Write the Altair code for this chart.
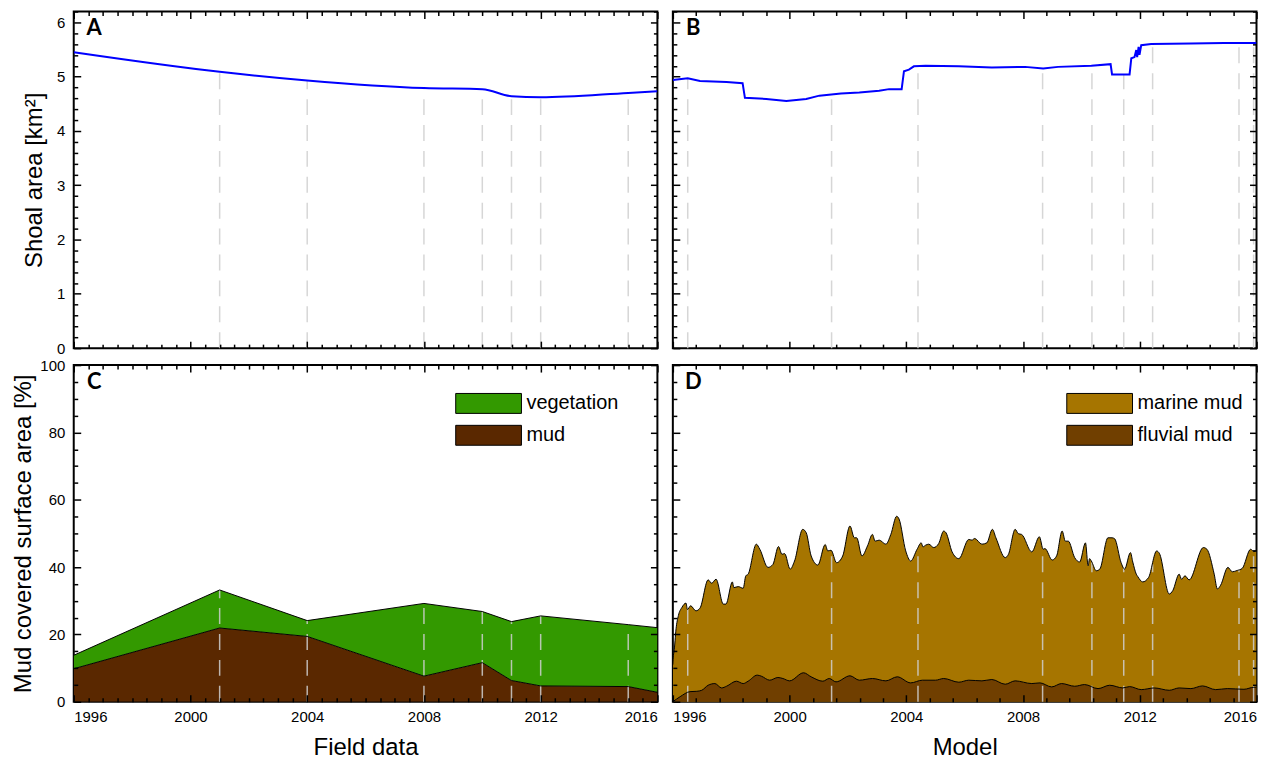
import altair as alt
import numpy as np
import pandas as pd

# ---------------- data ----------------
field_years = [1996.0, 2001.0, 2004.0, 2008.0, 2010.0, 2011.0, 2012.0, 2015.0, 2016.0]
field_shoal_area = [5.45, 5.09, 4.93, 4.79, 4.77, 4.64, 4.62, 4.70, 4.73]
field_mud = [9.8, 21.9, 19.4, 7.6, 11.6, 6.3, 4.7, 4.5, 2.8]
field_vegetation = [4.0, 11.3, 4.7, 21.6, 15.2, 17.5, 20.8, 18.4, 19.2]
field_survey_years = [2001.0, 2004.0, 2008.0, 2010.0, 2011.0, 2012.0, 2015.0]

model_area_years = [1996.0, 1996.51, 1996.93, 1997.84, 1998.39, 1998.47, 1999.20, 1999.89,
                    2000.57, 2001.02, 2001.76, 2002.39, 2003.07, 2003.41, 2003.84, 2003.92,
                    2004.09, 2004.26, 2004.66, 2005.80, 2006.93, 2008.07, 2008.69, 2009.20,
                    2010.34, 2011.00, 2011.05, 2011.65, 2011.71, 2011.82, 2011.88, 2011.91,
                    2011.96, 2011.99, 2012.05, 2012.39, 2013.75, 2014.89, 2016.0]
model_shoal_area = [4.94, 4.97, 4.92, 4.90, 4.88, 4.61, 4.59, 4.55,
                    4.59, 4.65, 4.69, 4.71, 4.74, 4.77, 4.77, 5.10,
                    5.13, 5.19, 5.20, 5.19, 5.17, 5.18, 5.15, 5.18,
                    5.20, 5.23, 5.04, 5.04, 5.34, 5.36, 5.49, 5.36,
                    5.55, 5.40, 5.58, 5.60, 5.61, 5.62, 5.62]

model_mud_years = [1996.00, 1996.02, 1996.04, 1996.11, 1996.19, 1996.31, 1996.45, 1996.50,
                   1996.61, 1996.79, 1996.93, 1997.21, 1997.33, 1997.48, 1997.73, 1997.82,
                   1998.04, 1998.09, 1998.24, 1998.41, 1998.50, 1998.58, 1998.86, 1998.98,
                   1999.26, 1999.43, 1999.62, 1999.74, 1999.83, 2000.02, 2000.17, 2000.45,
                   2000.57, 2000.74, 2000.97, 2001.22, 2001.31, 2001.42, 2001.61, 2001.82,
                   2002.07, 2002.22, 2002.30, 2002.48, 2002.67, 2002.84, 2002.93, 2003.07,
                   2003.30, 2003.47, 2003.67, 2003.75, 2003.98, 2004.15, 2004.37, 2004.51,
                   2004.57, 2004.66, 2004.77, 2004.94, 2005.11, 2005.28, 2005.36, 2005.57,
                   2005.80, 2006.14, 2006.25, 2006.34, 2006.59, 2006.76, 2006.95, 2007.07,
                   2007.39, 2007.50, 2007.73, 2007.84, 2007.95, 2008.30, 2008.56, 2008.69,
                   2008.75, 2009.00, 2009.15, 2009.34, 2009.45, 2009.55, 2009.77, 2009.94,
                   2010.14, 2010.23, 2010.28, 2010.34, 2010.51, 2010.63, 2010.91, 2011.05,
                   2011.14, 2011.36, 2011.48, 2011.68, 2011.76, 2011.88, 2011.93, 2012.10,
                   2012.30, 2012.58, 2012.67, 2013.01, 2013.13, 2013.35, 2013.43, 2013.55,
                   2013.69, 2014.18, 2014.30, 2014.55, 2014.66, 2014.77, 2015.02, 2015.17,
                   2015.34, 2015.51, 2015.80, 2015.91, 2016.00]
model_total_mud = [11.0, 13.8, 14.8, 21.7, 25.6, 28.0, 29.3, 27.4,
                   28.5, 27.0, 27.8, 36.2, 35.2, 36.4, 29.0, 29.0,
                   35.6, 33.9, 34.2, 33.7, 37.4, 37.9, 46.8, 45.3,
                   39.9, 40.8, 46.1, 43.8, 44.0, 39.4, 41.8, 51.2,
                   50.2, 43.3, 40.6, 46.7, 44.8, 45.0, 41.3, 43.3,
                   52.2, 48.7, 48.7, 43.3, 46.3, 49.7, 47.7, 48.0,
                   46.8, 49.7, 55.1, 54.3, 44.8, 41.8, 45.3, 47.2,
                   46.0, 46.5, 46.8, 45.8, 47.0, 50.7, 50.2, 44.5,
                   42.5, 48.2, 48.0, 48.5, 46.8, 47.2, 51.2, 48.7,
                   42.8, 43.8, 51.2, 49.9, 49.7, 44.5, 49.0, 45.3,
                   45.5, 42.1, 43.3, 50.7, 47.7, 47.7, 42.8, 41.5,
                   47.2, 40.4, 42.5, 41.8, 38.9, 39.4, 48.7, 48.7,
                   48.4, 41.3, 39.4, 44.3, 41.5, 37.9, 37.2, 35.6,
                   36.9, 44.8, 44.1, 32.0, 33.0, 37.9, 36.4, 37.4,
                   36.2, 45.8, 45.3, 37.9, 33.5, 34.6, 39.9, 38.6,
                   39.0, 39.6, 45.3, 44.6, 44.8]

model_fluvial_years = [1996.00, 1996.25, 1996.59, 1996.82, 1996.99, 1997.21, 1997.44, 1997.67,
                       1997.84, 1998.18, 1998.41, 1998.58, 1998.89, 1999.03, 1999.32, 1999.60,
                       1999.77, 2000.00, 2000.48, 2000.74, 2001.14, 2001.36, 2001.59, 2002.07,
                       2002.39, 2002.84, 2003.30, 2003.69, 2004.15, 2004.55, 2005.00, 2005.28,
                       2005.80, 2006.14, 2006.59, 2006.93, 2007.39, 2007.73, 2008.30, 2008.58,
                       2008.98, 2009.32, 2009.77, 2010.11, 2010.57, 2010.97, 2011.42, 2011.65,
                       2012.05, 2012.50, 2013.01, 2013.35, 2013.75, 2014.15, 2014.60, 2015.00,
                       2015.57, 2015.91, 2016.00]
model_fluvial_mud = [0.0, 1.5, 3.0, 3.1, 3.4, 4.9, 5.4, 4.1,
                     4.6, 6.1, 5.4, 6.1, 7.9, 7.6, 6.4, 7.2,
                     6.9, 6.2, 8.6, 7.4, 6.1, 6.9, 5.9, 7.7,
                     6.4, 6.9, 6.2, 7.4, 5.6, 6.4, 6.4, 6.9,
                     5.8, 6.4, 6.2, 6.6, 5.2, 6.2, 5.4, 5.6,
                     4.4, 5.4, 4.6, 5.1, 3.9, 4.9, 4.1, 4.5,
                     3.6, 4.1, 3.4, 4.1, 3.9, 4.7, 3.6, 3.9,
                     3.7, 4.3, 4.3]
model_survey_years = [1996.51, 2001.44, 2004.40, 2008.67, 2010.36, 2011.45, 2012.44, 2015.40, 2015.90]

x_major = [1996, 2000, 2004, 2008, 2012, 2016]
field_x_minor = [1996 + 0.5 * i for i in range(41) if i % 8 != 0]
model_x_minor = [round(1996 + 0.8 * i, 2) for i in range(26) if i % 5 != 0]
area_y_major = [0, 1, 2, 3, 4, 5, 6]
area_y_minor = [round(0.2 * i, 1) for i in range(32) if i % 5 != 0]
pct_y_major = [0, 20, 40, 60, 80, 100]
pct_y_minor = [5 * i for i in range(21) if i % 4 != 0]

field_legend = ["vegetation", "mud"]
field_colors = ["#339900", "#5a2800"]
model_legend = ["marine mud", "fluvial mud"]
model_colors = ["#a67500", "#703f00"]

# ---------------- styling ----------------
W, H = 586, 338
FONT = "Liberation Sans"
AREA_DOM = [0, 6.2]
PCT_DOM = [0, 100]
RULE_COLOR = "#cfcfcf"
RULE_STYLE = dict(strokeDash=[16, 10], color=RULE_COLOR, strokeWidth=1.5, opacity=0.85)


def xscale():
    return alt.Scale(domain=[1996, 2016], nice=False, zero=False)


def yscale(dom):
    return alt.Scale(domain=dom, nice=False, zero=False)


def tick_axis(orient, offset, values, size):
    return alt.Axis(orient=orient, offset=offset, values=values, labels=False, domain=False,
                    grid=False, ticks=True, tickSize=size, tickWidth=1.5, tickColor="black",
                    title=None, zindex=3, minExtent=0)


def tick_layers(x_minor, y_major, y_minor, ydom):
    dummy = pd.DataFrame({"tx": [2006.0], "ty": [0.0]})
    out = []
    for xo, yo in (("top", "right"), ("bottom", "left")):
        for xv, yv, size in ((x_major, y_major, 7), (x_minor, y_minor, 4)):
            out.append(alt.Chart(dummy).mark_point(opacity=0).encode(
                x=alt.X("tx:Q", scale=xscale(), axis=tick_axis(xo, -H, xv, size)),
                y=alt.Y("ty:Q", scale=yscale(ydom), axis=tick_axis(yo, -W, yv, size))))
    return out


def letter_layer(ch):
    return alt.Chart(pd.DataFrame({"t": [ch]})).mark_text(
        font="Lato", fontWeight="bold", fontSize=22, align="center", baseline="middle",
        color="black").encode(text="t:N", x=alt.value(20.5), y=alt.value(17))


def bottom_label_axis(title):
    return alt.Axis(orient="bottom", values=x_major, format="d", labelFlush=True, ticks=False,
                    domain=False, grid=False, labelPadding=7.5, title=title, titlePadding=11,
                    zindex=3, minExtent=0)


def left_label_axis(values, title, tpad):
    return alt.Axis(orient="left", values=values, ticks=False, domain=False, grid=False,
                    labelPadding=9, title=title, titlePadding=tpad, zindex=3, minExtent=0)


def legend(lx, ly):
    return alt.Legend(title=None, orient="none", legendX=lx, legendY=ly, direction="vertical",
                      symbolType="M-3.3,-1H3.3V1H-3.3Z", symbolSize=400,
                      symbolStrokeColor="black", symbolStrokeWidth=1, symbolOpacity=1,
                      labelFont=FONT, labelFontSize=20, labelColor="black", labelOffset=27.5,
                      rowPadding=7, padding=0)


def finish(layers):
    return alt.layer(*layers).resolve_axis(x="independent", y="independent").properties(
        width=W, height=H)


# ---------------- panel A ----------------
dfA = pd.DataFrame({"year": field_years, "area": field_shoal_area})
lookA = dict(zip(field_years, field_shoal_area))
dfA_r = pd.DataFrame({"year": field_survey_years, "base": 0.0,
                      "top": [lookA[y] for y in field_survey_years]})
ruleA = alt.Chart(dfA_r).mark_rule(**RULE_STYLE).encode(
    x=alt.X("year:Q", scale=xscale(), axis=None),
    y=alt.Y("base:Q", scale=yscale(AREA_DOM),
            axis=left_label_axis(area_y_major, "Shoal area [km²]", 10)),
    y2="top:Q")
lineA = alt.Chart(dfA).mark_line(color="#0000ff", strokeWidth=2, interpolate="monotone",
                                 clip=True).encode(
    x=alt.X("year:Q", scale=xscale(), axis=None),
    y=alt.Y("area:Q", scale=yscale(AREA_DOM), axis=None))
panelA = finish([ruleA, lineA] + tick_layers(field_x_minor, area_y_major, area_y_minor, AREA_DOM)
                + [letter_layer("A")])

# ---------------- panel B ----------------
dfB = pd.DataFrame({"year": model_area_years, "area": model_shoal_area})
dfB_r = pd.DataFrame({"year": model_survey_years, "base": 0.0,
                      "top": np.interp(model_survey_years, model_area_years, model_shoal_area)})
ruleB = alt.Chart(dfB_r).mark_rule(**RULE_STYLE).encode(
    x=alt.X("year:Q", scale=xscale(), axis=None),
    y=alt.Y("base:Q", scale=yscale(AREA_DOM), axis=None),
    y2="top:Q")
lineB = alt.Chart(dfB).mark_line(color="#0000ff", strokeWidth=2, clip=True).encode(
    x=alt.X("year:Q", scale=xscale(), axis=None),
    y=alt.Y("area:Q", scale=yscale(AREA_DOM), axis=None))
panelB = finish([ruleB, lineB] + tick_layers(model_x_minor, area_y_major, area_y_minor, AREA_DOM)
                + [letter_layer("B")])

# ---------------- panel C ----------------
rowsC = []
for y, m, v in zip(field_years, field_mud, field_vegetation):
    rowsC.append({"year": y, "series": "mud", "pct": m, "rank": 0})
    rowsC.append({"year": y, "series": "vegetation", "pct": v, "rank": 1})
dfC = pd.DataFrame(rowsC)
totC = dict(zip(field_years, [m + v for m, v in zip(field_mud, field_vegetation)]))
dfC_lines = pd.DataFrame(
    [{"year": y, "which": "mud", "top": m} for y, m in zip(field_years, field_mud)] +
    [{"year": y, "which": "total", "top": totC[y]} for y in field_years])
dfC_r = pd.DataFrame({"year": field_survey_years, "base": 0.0,
                      "top": [totC[y] for y in field_survey_years]})
areaC = alt.Chart(dfC).mark_area(clip=True).encode(
    x=alt.X("year:Q", scale=xscale(), axis=bottom_label_axis("Field data")),
    y=alt.Y("pct:Q", stack="zero", scale=yscale(PCT_DOM),
            axis=left_label_axis(pct_y_major, "Mud covered surface area [%]", 4)),
    color=alt.Color("series:N", scale=alt.Scale(domain=field_legend, range=field_colors),
                    legend=legend(406, 28)),
    order=alt.Order("rank:Q"))
ruleC = alt.Chart(dfC_r).mark_rule(**RULE_STYLE).encode(
    x=alt.X("year:Q", scale=xscale(), axis=None),
    y=alt.Y("base:Q", scale=yscale(PCT_DOM), axis=None),
    y2="top:Q")
lineC = alt.Chart(dfC_lines).mark_line(color="black", strokeWidth=1, clip=True).encode(
    x=alt.X("year:Q", scale=xscale(), axis=None),
    y=alt.Y("top:Q", scale=yscale(PCT_DOM), axis=None),
    detail="which:N")
panelC = finish([areaC, ruleC, lineC] + tick_layers(field_x_minor, pct_y_major, pct_y_minor, PCT_DOM)
                + [letter_layer("C")])

# ---------------- panel D ----------------
dfD_tot = pd.DataFrame({"year": model_mud_years, "pct": model_total_mud, "series": "marine mud"})
dfD_flu = pd.DataFrame({"year": model_fluvial_years, "pct": model_fluvial_mud,
                        "series": "fluvial mud"})
dfD_r = pd.DataFrame({"year": model_survey_years, "base": 0.0,
                      "top": np.interp(model_survey_years, model_mud_years, model_total_mud)})
colD = alt.Color("series:N", scale=alt.Scale(domain=model_legend, range=model_colors),
                 legend=legend(418, 28))
areaD1 = alt.Chart(dfD_tot).mark_area(interpolate="monotone", clip=True).encode(
    x=alt.X("year:Q", scale=xscale(), axis=bottom_label_axis("Model")),
    y=alt.Y("pct:Q", stack=None, scale=yscale(PCT_DOM), axis=None),
    color=colD)
areaD2 = alt.Chart(dfD_flu).mark_area(interpolate="monotone", clip=True).encode(
    x=alt.X("year:Q", scale=xscale(), axis=None),
    y=alt.Y("pct:Q", stack=None, scale=yscale(PCT_DOM), axis=None),
    color=colD)
ruleD = alt.Chart(dfD_r).mark_rule(**RULE_STYLE).encode(
    x=alt.X("year:Q", scale=xscale(), axis=None),
    y=alt.Y("base:Q", scale=yscale(PCT_DOM), axis=None),
    y2="top:Q")
lineD1 = alt.Chart(dfD_tot).mark_line(color="black", strokeWidth=1, interpolate="monotone",
                                      clip=True).encode(
    x=alt.X("year:Q", scale=xscale(), axis=None),
    y=alt.Y("pct:Q", scale=yscale(PCT_DOM), axis=None))
lineD2 = alt.Chart(dfD_flu).mark_line(color="black", strokeWidth=1, interpolate="monotone",
                                      clip=True).encode(
    x=alt.X("year:Q", scale=xscale(), axis=None),
    y=alt.Y("pct:Q", scale=yscale(PCT_DOM), axis=None))
panelD = finish([areaD1, areaD2, ruleD, lineD1, lineD2]
                + tick_layers(model_x_minor, pct_y_major, pct_y_minor, PCT_DOM)
                + [letter_layer("D")])

chart = alt.concat(panelA, panelB, panelC, panelD, columns=2,
                   spacing={"row": 0, "column": 11.5}).resolve_scale(
    x="independent", y="independent", color="independent").properties(
    padding={"left": 2, "top": 0, "right": 0, "bottom": 0}, background="white"
).configure_view(stroke="black", strokeWidth=2).configure_axis(
    labelFont=FONT, labelFontSize=15, labelColor="black", titleFont=FONT, titleFontSize=24,
    titleFontWeight="normal", titleColor="black")

chart.save("out.html", embed_options={"renderer": "svg", "actions": False})
